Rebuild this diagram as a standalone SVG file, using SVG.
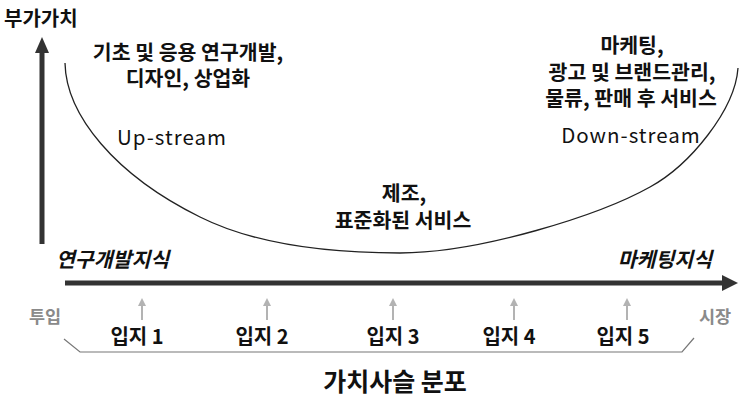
<svg xmlns="http://www.w3.org/2000/svg" width="744" height="402" viewBox="0 0 744 402">
<defs>
<style>
text{font-family:"Noto Sans CJK KR","Noto Sans",sans-serif;fill:#111;}
.b{font-weight:700;font-size:20.5px;}
.s{font-weight:700;font-size:20px;}
.m{text-anchor:middle;}
.en{font-weight:400;font-size:20.5px;letter-spacing:1px;}
.it{font-style:italic;font-weight:700;font-size:20.5px;}
.g{fill:#8a8a8a;font-weight:700;font-size:17.5px;}
.ga{stroke:#b3b3b3;stroke-width:2;fill:none;}
.gh{fill:#b3b3b3;}
</style>
</defs>
<rect width="744" height="402" fill="#fff"/>
<g id="connectors">
  <line x1="42" y1="244" x2="42" y2="50" stroke="#333" stroke-width="5"/>
  <polygon points="35,53 42,37 49,53" fill="#333"/>
  <line x1="65" y1="283" x2="724" y2="283" stroke="#333" stroke-width="5"/>
  <polygon points="722,275 738,283 722,291" fill="#333"/>
  <path d="M65,63 C66,115 115,175 200,217 C260,247 340,253 400,253 C480,253 600,215 650,187 C690,165 735,110 738,68" fill="none" stroke="#222" stroke-width="1.3"/>
  <polyline points="64,339 80,352 682,352 694,338" fill="none" stroke="#777" stroke-width="1.2"/>
  <g id="site-arrows">
    <line class="ga" x1="142" y1="320" x2="142" y2="304"/><polygon class="gh" points="138,306 142,298 146,306"/>
    <line class="ga" x1="267" y1="320" x2="267" y2="304"/><polygon class="gh" points="263,306 267,298 271,306"/>
    <line class="ga" x1="393" y1="320" x2="393" y2="304"/><polygon class="gh" points="389,306 393,298 397,306"/>
    <line class="ga" x1="514" y1="320" x2="514" y2="304"/><polygon class="gh" points="510,306 514,298 518,306"/>
    <line class="ga" x1="627" y1="320" x2="627" y2="304"/><polygon class="gh" points="623,306 627,298 631,306"/>
  </g>
</g>
<g id="axis-y-label"><text class="s" x="4" y="26">부가가치</text></g>
<g id="upstream">
  <text class="b m" x="188" y="60">기초 및 응용 연구개발,</text>
  <text class="b m" x="188" y="86">디자인, 상업화</text>
  <text class="en m" x="172" y="145">Up-stream</text>
</g>
<g id="downstream">
  <text class="b m" x="632" y="53">마케팅,</text>
  <text class="b m" x="632" y="80">광고 및 브랜드관리,</text>
  <text class="b m" x="631" y="106">물류, 판매 후 서비스</text>
  <text class="en m" x="631" y="143">Down-stream</text>
</g>
<g id="manufacturing">
  <text class="b m" x="404" y="201">제조,</text>
  <text class="b m" x="403" y="228">표준화된 서비스</text>
</g>
<g id="knowledge">
  <text class="it" x="56" y="267">연구개발지식</text>
  <text class="it" x="712" y="267" text-anchor="end">마케팅지식</text>
</g>
<g id="ends">
  <text class="g m" x="45" y="323">투입</text>
  <text class="g m" x="715" y="323">시장</text>
</g>
<g id="sites">
  <text class="s m" x="137" y="344">입지 1</text>
  <text class="s m" x="262" y="344">입지 2</text>
  <text class="s m" x="393" y="344">입지 3</text>
  <text class="s m" x="509" y="344">입지 4</text>
  <text class="s m" x="623" y="344">입지 5</text>
</g>
<g id="title"><text class="m" x="395" y="391" font-weight="700" font-size="25">가치사슬 분포</text></g>
</svg>
